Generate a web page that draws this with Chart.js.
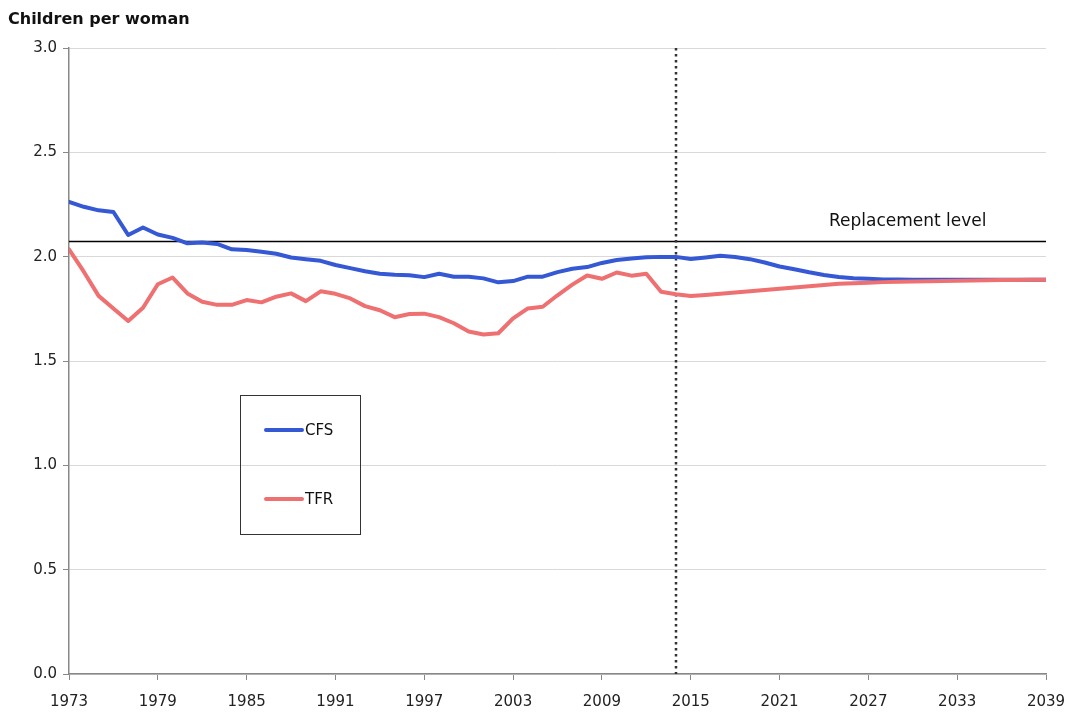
<!DOCTYPE html>
<html>
<head>
<meta charset="utf-8">
<script src="https://cdn.jsdelivr.net/npm/chart.js@4/dist/chart.umd.min.js"></script>
<style>
  body { margin: 0; background: #fff; }
  #wrap { position: relative; width: 1070px; height: 716px; }
</style>
</head>
<body>
<div id="wrap"><canvas id="myChart" width="1070" height="716"></canvas></div>
<script>
/* Data section */
var years = [];
for (var yr = 1973; yr <= 2039; yr++) years.push(yr);

var tickYears = [1973, 1979, 1985, 1991, 1997, 2003, 2009, 2015, 2021, 2027, 2033, 2039];

var cfs = [
    2.263, 2.239, 2.222, 2.214, 2.104, 2.140, 2.106, 2.090, 2.064, 2.068,  // 1973-1982
    2.061, 2.035, 2.032, 2.024, 2.014, 1.996, 1.988, 1.980, 1.960, 1.945,  // 1983-1992
    1.930, 1.918, 1.913, 1.911, 1.902, 1.918, 1.904, 1.904, 1.896, 1.877,  // 1993-2002
    1.883, 1.904, 1.904, 1.926, 1.942, 1.950, 1.970, 1.984, 1.991, 1.997,  // 2003-2012
    1.999, 1.999, 1.989, 1.996, 2.004, 1.998, 1.988, 1.972, 1.953, 1.940,  // 2013-2022
    1.925, 1.912, 1.903, 1.897, 1.894, 1.891, 1.890, 1.889, 1.889, 1.889,  // 2023-2032
    1.889, 1.889, 1.889, 1.889, 1.889, 1.889, 1.889                        // 2033-2039
];

var tfr = [
    2.035, 1.928, 1.812, 1.752, 1.692, 1.755, 1.868, 1.900, 1.824, 1.784,  // 1973-1982
    1.769, 1.769, 1.792, 1.781, 1.808, 1.824, 1.787, 1.834, 1.822, 1.800,  // 1983-1992
    1.763, 1.743, 1.710, 1.725, 1.727, 1.710, 1.681, 1.641, 1.627, 1.633,  // 1993-2002
    1.704, 1.752, 1.760, 1.815, 1.866, 1.910, 1.894, 1.924, 1.909, 1.918,  // 2003-2012
    1.832, 1.820, 1.811, 1.816, 1.822, 1.828, 1.834, 1.840, 1.846, 1.852,  // 2013-2022
    1.858, 1.864, 1.870, 1.873, 1.875, 1.878, 1.880, 1.881, 1.882, 1.883,  // 2023-2032
    1.885, 1.886, 1.887, 1.888, 1.888, 1.889, 1.889                        // 2033-2039
];

var replacementLevel = 2.075;
var projectionYear = 2014;

function toPoints(values) {
    return values.map(function (v, i) { return { x: years[i], y: v }; });
}

var FONT = '"DejaVu Sans", Verdana, sans-serif';

/* Extra drawing: title, replacement line, projection marker, legend box */
var decorations = {
    id: 'decorations',
    beforeDatasetsDraw: function (chart) {
        var c = chart.ctx, a = chart.chartArea;
        var x = chart.scales.x, y = chart.scales.y;
        c.save();
        // replacement level
        var ry = Math.round(y.getPixelForValue(replacementLevel)) + 0.5;
        c.strokeStyle = '#000';
        c.lineWidth = 1.3;
        c.beginPath();
        c.moveTo(a.left, ry);
        c.lineTo(a.right, ry);
        c.stroke();
        c.fillStyle = '#111';
        c.font = '17px ' + FONT;
        c.textBaseline = 'alphabetic';
        c.fillText('Replacement level', 829, ry - 16);
        // projection start
        var px = Math.round(x.getPixelForValue(projectionYear));
        c.strokeStyle = '#333';
        c.lineWidth = 2.5;
        c.setLineDash([2.5, 3.5]);
        c.beginPath();
        c.moveTo(px, a.top);
        c.lineTo(px, a.bottom);
        c.stroke();
        c.restore();
    },
    afterDraw: function (chart) {
        var c = chart.ctx;
        c.save();
        c.fillStyle = '#111';
        c.font = 'bold 16px ' + FONT;
        c.textBaseline = 'alphabetic';
        c.fillText('Children per woman', 8, 24);
        // legend box
        c.strokeStyle = '#333';
        c.lineWidth = 1;
        c.strokeRect(240.5, 395.5, 120, 139);
        var items = [
            { label: 'CFS', color: '#3558d4', y: 430 },
            { label: 'TFR', color: '#ee7070', y: 499 }
        ];
        c.font = '15px ' + FONT;
        c.textBaseline = 'middle';
        items.forEach(function (it) {
            c.strokeStyle = it.color;
            c.lineWidth = 4;
            c.lineCap = 'round';
            c.beginPath();
            c.moveTo(266, it.y);
            c.lineTo(302, it.y);
            c.stroke();
            c.fillStyle = '#111';
            c.fillText(it.label, 305, it.y + 1);
        });
        c.restore();
    }
};

/* Chart section */
var ctx = document.getElementById('myChart').getContext('2d');
var myChart = new Chart(ctx, {
    type: 'line',
    data: {
        datasets: [{
            label: 'CFS',
            data: toPoints(cfs),
            borderColor: '#3558d4',
            borderWidth: 4,
            order: 1
        }, {
            label: 'TFR',
            data: toPoints(tfr),
            borderColor: '#ee7070',
            borderWidth: 4,
            order: 0
        }]
    },
    options: {
        responsive: false,
        animation: false,
        events: [],
        layout: { padding: { top: 48, right: 24, left: 0, bottom: 0 } },
        elements: {
            point: { radius: 0 },
            line: { tension: 0, borderJoinStyle: 'round', borderCapStyle: 'round' }
        },
        plugins: {
            legend: { display: false },
            tooltip: { enabled: false }
        },
        scales: {
            x: {
                type: 'linear',
                min: 1973,
                max: 2039,
                afterBuildTicks: function (scale) {
                    scale.ticks = tickYears.map(function (v) { return { value: v }; });
                },
                afterFit: function (scale) {
                    scale.height = 42;
                    scale.paddingLeft = 0;
                    scale.paddingRight = 0;
                },
                grid: {
                    drawOnChartArea: false,
                    drawTicks: true,
                    tickLength: 6,
                    color: '#888'
                },
                border: { color: '#888', width: 1.5 },
                ticks: {
                    autoSkip: false,
                    maxRotation: 0,
                    padding: 13,
                    color: '#222',
                    font: { family: FONT, size: 15 },
                    callback: function (v) { return String(v); }
                }
            },
            y: {
                min: 0,
                max: 3,
                afterFit: function (scale) {
                    scale.width = 69;
                    scale.paddingTop = 0;
                    scale.paddingBottom = 0;
                },
                grid: {
                    color: '#d9d9d9',
                    lineWidth: 1,
                    drawTicks: true,
                    tickLength: 6,
                    tickColor: '#888'
                },
                border: { color: '#888', width: 1.5 },
                ticks: {
                    stepSize: 0.5,
                    padding: 6,
                    color: '#222',
                    font: { family: FONT, size: 15 },
                    callback: function (v) { return v.toFixed(1); }
                }
            }
        }
    },
    plugins: [decorations]
});
</script>
</body>
</html>
